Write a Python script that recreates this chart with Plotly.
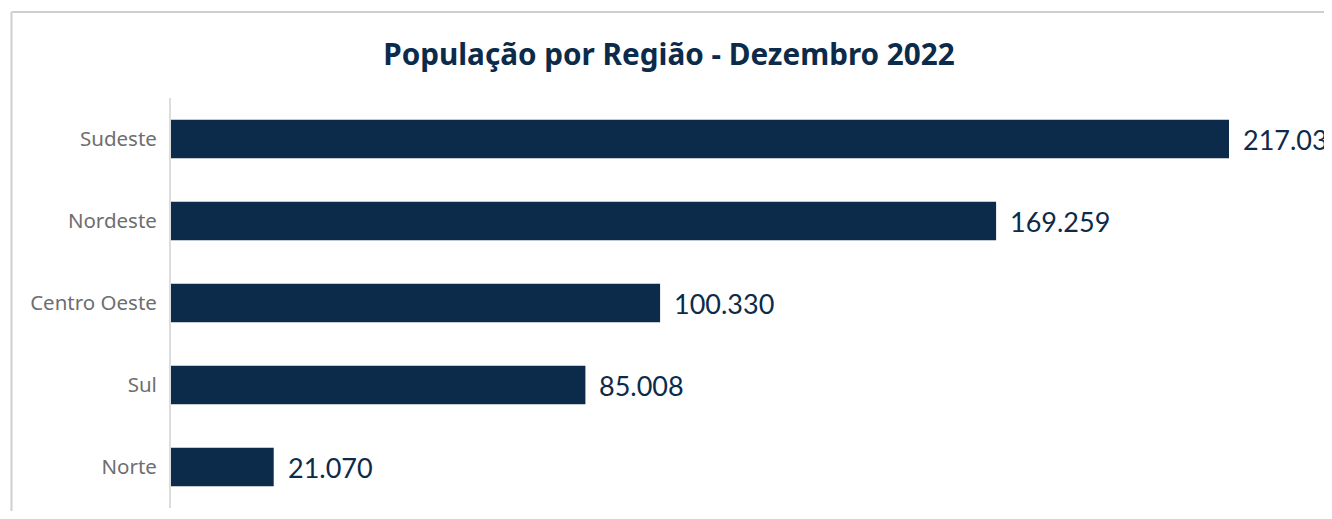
import plotly.graph_objects as go

regions = ["Sudeste", "Nordeste", "Centro Oeste", "Sul", "Norte"]
population = [217035, 169259, 100330, 85008, 21070]
labels = ["217.035", "169.259", "100.330", "85.008", "21.070"]

OFF = 8  # browser body margin
W, H = 1332 - OFF, 519 - 2 * OFF
ML, MR, MT = 171 - OFF, 0, 98 - OFF
MB = H - (508 - OFF)
pw = W - ML - MR
ph = H - MT - MB
xmax = pw / (1058 / 217035)

def px(x):
    return (x - OFF - ML) / pw

def py(y):
    return (H - MB - (y - OFF)) / ph

NAVY = "#0c2b4a"

fig = go.Figure(go.Bar(
    y=regions, x=population, orientation="h",
    marker=dict(color=NAVY, line=dict(width=0)),
    width=0.47,
    hoverinfo="skip",
))

for r, v, t in zip(regions, population, labels):
    fig.add_annotation(x=v, y=r, text=t, xref="x", yref="y", showarrow=False,
                       xanchor="left", yanchor="middle", xshift=12,
                       font=dict(family="Lato", size=27, color=NAVY))

# outer card border (left and top edges visible)
fig.add_shape(type="line", xref="paper", yref="paper",
              x0=px(11.5), x1=px(1345), y0=py(12), y1=py(12),
              line=dict(color="#cfcfcf", width=2), layer="above")
fig.add_shape(type="line", xref="paper", yref="paper",
              x0=px(11.5), x1=px(11.5), y0=py(12), y1=py(530),
              line=dict(color="#cfcfcf", width=2), layer="above")
# faint decorative shape at left edge
fig.add_shape(type="path", xref="paper", yref="paper",
              path=f"M {px(-2)},{py(330)} L {px(7)},{py(340)} L {px(7)},{py(453)} L {px(-2)},{py(462)} Z",
              fillcolor="#e3efef", line=dict(width=0), layer="below")

fig.update_layout(
    width=W, height=H,
    margin=dict(l=ML, r=MR, t=MT, b=MB),
    paper_bgcolor="white", plot_bgcolor="white",
    title=dict(text="<b>População por Região - Dezembro 2022</b>",
               x=(669 - OFF) / W, xref="container", xanchor="center",
               y=1 - (55 - OFF) / H, yref="container", yanchor="middle",
               font=dict(family="Noto Sans", size=29.7, color=NAVY)),
    xaxis=dict(range=[0, xmax], visible=False, fixedrange=True),
    yaxis=dict(categoryorder="array", categoryarray=regions[::-1],
               range=[-0.5, 4.5], showline=True, linecolor="#dcdcdc", linewidth=2,
               showgrid=False, zeroline=False, ticks="", ticklabelstandoff=8,
               tickfont=dict(family="Noto Sans", size=20.5, color="#6e6e6e")),
    showlegend=False,
)

fig.write_html("out.html")
